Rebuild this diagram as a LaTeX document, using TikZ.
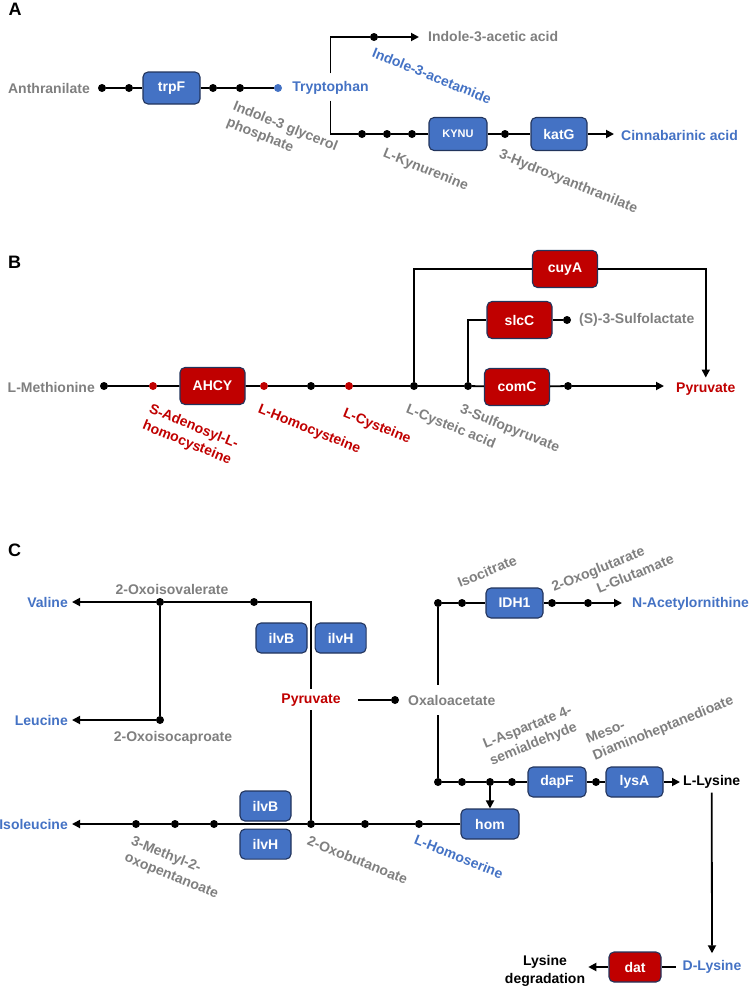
\documentclass[tikz,border=0pt]{standalone}
\usepackage{fontspec}
\setmainfont{Liberation Sans}
\usepackage{xcolor}
\usetikzlibrary{arrows.meta,positioning}

\definecolor{enzblue}{HTML}{4472C4}
\definecolor{enzred}{HTML}{C00000}
\definecolor{enzedge}{HTML}{22345C}
\definecolor{metgrey}{HTML}{7F7F7F}
\newcommand{\mfont}{\fontsize{14}{17.5}\selectfont\bfseries}

\begin{document}
\begin{tikzpicture}[
    x=1pt, y=-1pt,
    flow/.style={line width=1.8pt},
    arrow/.style={flow, -{Triangle[length=8pt,width=8pt]}},
    box/.style={
        draw=enzedge,
        line width=1.1pt,
        rounded corners=5pt,
        inner sep=0pt,
        text=white,
        font=\mfont,
        minimum height=30pt
    },
    bluebox/.style={box, fill=enzblue},
    redbox/.style={box, fill=enzred, minimum width=65pt, minimum height=37pt},
    dot/.style={circle, fill=black, inner sep=0pt, minimum size=8pt},
    reddot/.style={dot, fill=enzred},
    bluedot/.style={dot, fill=enzblue},
    met/.style={font=\mfont, text=metgrey, inner sep=0pt},
    bluemet/.style={met, text=enzblue},
    redmet/.style={met, text=enzred},
    blackmet/.style={met, text=black},
    tilt/.style={met, align=left, rotate=-22, anchor=north west},
    lift/.style={met, align=left, rotate=22, anchor=south west},
    panel/.style={font=\fontsize{18}{20}\selectfont\bfseries, inner sep=0pt}
]
\useasboundingbox (0,0) rectangle (750,988);

% A: tryptophan
\node[panel] (pa) at (15,9) {A};
\node[met, anchor=east] (anth) at (90,88) {Anthranilate};
\node[dot] (a1) at (102,88) {};
\node[dot] (a2) at (129,88) {};
\node[bluebox, minimum width=57pt, minimum height=32pt] (trpf) at (171.5,88) {trpF};
\node[dot] (a3) at (213,88) {};
\node[dot] (a4) at (240,88) {};
\node[bluedot] (a5) at (278,88) {};
\node[bluemet] (trp) at (330.5,88) {Tryptophan};
\node[tilt] (igp) at (236,100) {Indole-3 glycerol\\phosphate};
\node[dot] (u1) at (374,37) {};
\node[met, anchor=west] (iaa) at (428,37) {Indole-3-acetic acid};
\node[tilt, text=enzblue] (iam) at (375,47) {Indole-3-acetamide};
\node[dot] (k1) at (362,134) {};
\node[dot] (k2) at (387,134) {};
\node[dot] (k3) at (412,134) {};
\node[bluebox, minimum width=58pt, minimum height=33pt, font=\fontsize{11}{13}\selectfont\bfseries] (kynu) at (458,134) {KYNU};
\node[dot] (k4) at (505,134) {};
\node[bluebox, minimum width=56pt, minimum height=33pt] (katg) at (559,134) {katG};
\node[bluemet, anchor=west] (cin) at (621,135) {Cinnabarinic acid};
\node[tilt] (lkyn) at (386,147) {L-Kynurenine};
\node[tilt] (hya) at (502,148) {3-Hydroxyanthranilate};

\draw[flow] (a1) -- (a2) -- (trpf) -- (a3) -- (a4) -- (a5);
\draw[flow, shorten <=8pt] (trp.north) |- (u1);
\draw[arrow, shorten >=9pt] (u1) -- (iaa.west);
\draw[flow, shorten <=6pt] (trp.south) |- (k1);
\draw[flow] (k1) -- (k2) -- (k3) -- (kynu) -- (k4) -- (katg);
\draw[arrow, shorten >=7pt] (katg) -- (katg -| cin.west);

% B: cysteine
\node[panel] (pb) at (14.5,262) {B};
\node[met, anchor=east] (met) at (95,387) {L-Methionine};
\node[dot] (b1) at (104,386) {};
\node[reddot] (b2) at (153,386) {};
\node[redbox] (ahcy) at (212.5,386) {AHCY};
\node[reddot] (b3) at (264,386) {};
\node[dot] (b4) at (311,386) {};
\node[reddot] (b5) at (349,386) {};
\node[dot] (b6) at (414,386) {};
\node[dot] (b7) at (468,386) {};
\node[redbox] (comc) at (517,387) {comC};
\node[dot] (b8) at (568,386) {};
\node[redmet, anchor=west] (pyr) at (676,389) {Pyruvate};
\node[redbox] (cuya) at (565,269) {cuyA};
\node[redbox] (slcc) at (519.5,320) {slcC};
\node[dot] (s1) at (567,320) {};
\node[met, anchor=west] (sla) at (579,320) {(S)-3-Sulfolactate};
\node[tilt, text=enzred] (sah) at (152,403) {S-Adenosyl-L-\\homocysteine};
\node[tilt, text=enzred] (hcy) at (261,403) {L-Homocysteine};
\node[tilt, text=enzred] (cys) at (346,407) {L-Cysteine};
\node[tilt] (cya) at (409,403) {L-Cysteic acid};
\node[tilt] (spy) at (463,403) {3-Sulfopyruvate};

\draw[flow] (b1) -- (b2) -- (ahcy) -- (b3) -- (b4) -- (b5) -- (b6) -- (b7) -- (comc) -- (b8);
\draw[arrow, shorten >=12pt] (b8) -- (b8 -| pyr.west);
\draw[flow] (b6) |- (cuya);
\draw[arrow, shorten >=5pt] (cuya) -| (pyr.north);
\draw[flow] (b7) |- (slcc);
\draw[flow] (slcc) -- (s1);

% C: pyruvate and oxaloacetate
\node[panel] (pc) at (14.5,550) {C};
\node[redmet] (pyc) at (311,700) {Pyruvate};
\node[bluebox, minimum width=51pt] (ilvb1) at (281.5,638) {ilvB};
\node[bluebox, minimum width=51pt, right=7pt of ilvb1] (ilvh1) {ilvH};
\node[dot] (c1) at (160,602) {};
\node[dot] (c2) at (254,602) {};
\node[dot] (c3) at (160,720) {};
\node[bluemet, anchor=east] (val) at (68,602) {Valine};
\node[bluemet, anchor=east] (leu) at (68,720) {Leucine};
\node[met] (oiv) at (172,589) {2-Oxoisovalerate};
\node[met] (oic) at (173,738) {2-Oxoisocaproate};

\draw[flow, shorten <=5pt] (pyc.north) |- (c2);
\draw[flow] (c2) -- (c1) -- (c3);
\draw[arrow, shorten >=4pt] (c1) -- (val.east);
\draw[arrow, shorten >=4pt] (c3) -- (leu.east);

\node[dot] (d1) at (136,824) {};
\node[dot] (d2) at (175,824) {};
\node[dot] (d3) at (214,824) {};
\node[dot] (d4) at (311,824) {};
\node[dot] (d5) at (365,824) {};
\node[dot] (d6) at (419,824) {};
\node[bluebox, minimum width=51pt] (ilvb2) at (265.5,806) {ilvB};
\node[bluebox, minimum width=51pt, below=7pt of ilvb2] (ilvh2) {ilvH};
\node[bluebox, minimum width=58pt] (hom) at (490,824) {hom};
\node[bluemet, anchor=east] (ile) at (68,824) {Isoleucine};
\node[tilt] (mop) at (134,835) {3-Methyl-2-\\oxopentanoate};
\node[tilt] (obu) at (310,835) {2-Oxobutanoate};
\node[tilt, text=enzblue] (hse) at (417,834) {L-Homoserine};

\draw[flow] (hom) -- (d6) -- (d5) -- (d4) -- (d3) -- (d2) -- (d1);
\draw[arrow, shorten >=4pt] (d1) -- (ile.east);
\draw[flow, shorten <=4pt] (pyc.south) -- (d4);

\node[dot] (ox) at (395,700) {};
\node[met, anchor=west] (oxa) at (408,700) {Oxaloacetate};
\draw[flow, shorten <=17pt] (pyc.east) -- (ox);

\node[dot] (e1) at (438,603) {};
\node[dot] (e2) at (462,603) {};
\node[bluebox, minimum width=57pt] (idh) at (514.5,603) {IDH1};
\node[dot] (e3) at (552,603) {};
\node[dot] (e4) at (588,603) {};
\node[bluemet, anchor=west] (nao) at (632,604) {N-Acetylornithine};
\node[lift] (ict) at (460,588) {Isocitrate};
\node[lift] (ogl) at (555,595) {2-Oxoglutarate};
\node[lift] (glu) at (599,594) {L-Glutamate};

\draw[flow, shorten <=10pt] (e1 |- oxa.north) -- (e1);
\draw[flow] (e1) -- (e2) -- (idh) -- (e3) -- (e4);
\draw[arrow, shorten >=10pt] (e4) -- (e4 -| nao.west);

\node[dot] (f1) at (438,782) {};
\node[dot] (f2) at (462,782) {};
\node[dot] (f3) at (490,782) {};
\node[dot] (f4) at (512,782) {};
\node[bluebox, minimum width=58pt] (dapf) at (557,782) {dapF};
\node[dot] (f5) at (596,782) {};
\node[bluebox, minimum width=57pt] (lysa) at (634.5,782) {lysA};
\node[blackmet, anchor=west] (lly) at (683,782) {L-Lysine};
\node[lift] (asa) at (493,768) {L-Aspartate 4-\\semialdehyde};
\node[lift] (dap) at (596,763) {Meso-\\Diaminoheptanedioate};

\draw[flow, shorten <=10pt] (e1 |- oxa.south) -- (f1);
\draw[flow] (f1) -- (f2) -- (f3) -- (f4) -- (dapf) -- (f5) -- (lysa);
\draw[arrow, shorten >=3pt] (lysa) -- (lly.west);
\draw[arrow] (f3) -- (hom);

\node[bluemet] (dly) at (712,967) {D-Lysine};
\node[redbox, minimum width=52pt, minimum height=30pt] (dat) at (635,967) {dat};
\node[blackmet, align=center] (lyd) at (545,971) {Lysine\\degradation};
\draw[arrow, shorten <=4pt, shorten >=7pt] (lly.south) -- (dly.north);
\draw[flow, shorten <=7pt] (dly.west) -- (dat);
\draw[arrow, shorten >=3pt] (dat) -- (lyd.east |- dat);
\end{tikzpicture}
\end{document}
